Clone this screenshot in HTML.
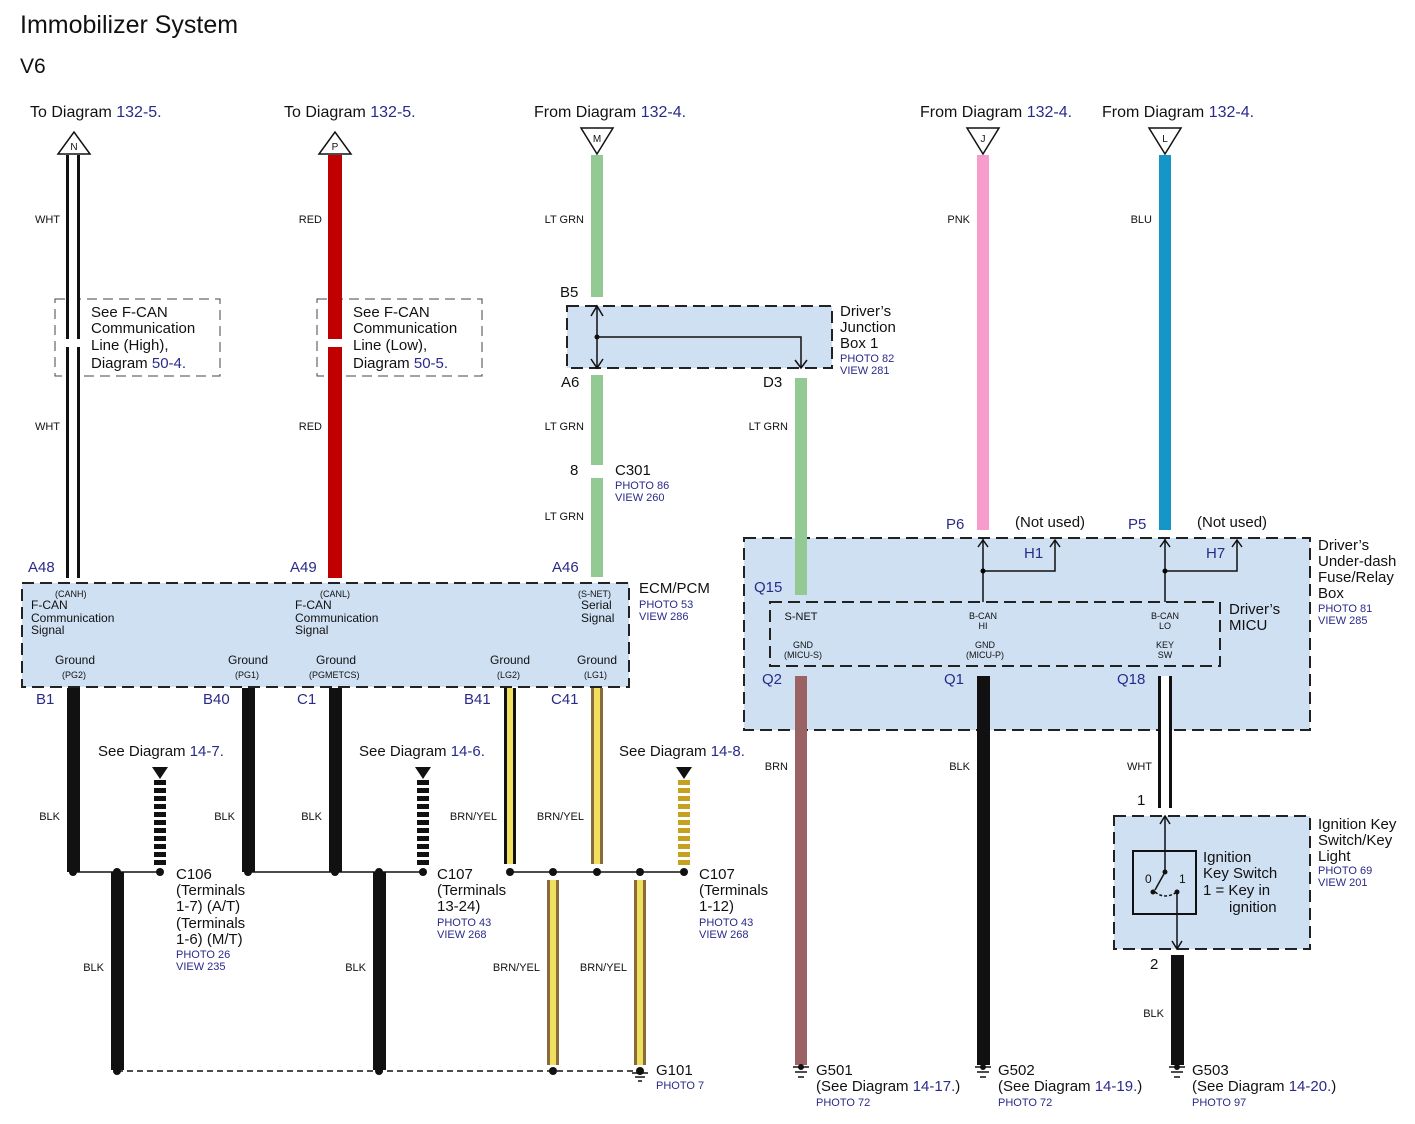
<!DOCTYPE html>
<html><head><meta charset="utf-8"><style>
body{margin:0;background:#fff}
svg text{font-family:"Liberation Sans",sans-serif;fill:#111}
.b{fill:#2a2a8a !important}
.s{font-size:11px}
.m{font-size:15px}
.p{font-size:11px;fill:#2a2a8a !important}
</style></head><body>
<svg width="1415" height="1119" viewBox="0 0 1415 1119" xmlns="http://www.w3.org/2000/svg">
<text x="20" y="33" font-size="25">Immobilizer System</text>
<text x="20" y="73" font-size="21">V6</text>

<!-- headers -->
<g class="m" font-size="16">
<text x="30" y="117" font-size="16">To Diagram <tspan class="b">132-5.</tspan></text>
<text x="284" y="117" font-size="16">To Diagram <tspan class="b">132-5.</tspan></text>
<text x="534" y="117" font-size="16">From Diagram <tspan class="b">132-4.</tspan></text>
<text x="920" y="117" font-size="16">From Diagram <tspan class="b">132-4.</tspan></text>
<text x="1102" y="117" font-size="16">From Diagram <tspan class="b">132-4.</tspan></text>
</g>

<!-- boxes -->
<g fill="#cfe0f3" stroke="#222" stroke-width="2" stroke-dasharray="12,6">
<rect x="22" y="583" width="607" height="104"/>
<rect x="567" y="306" width="265" height="62"/>
<rect x="744" y="538" width="566" height="192"/>
<rect x="770" y="602" width="450" height="64"/>
<rect x="1114" y="816" width="196" height="133"/>
</g>
<!-- F-CAN note boxes -->
<g fill="none" stroke="#444" stroke-width="1" stroke-dasharray="10,6">
<rect x="55" y="299" width="165" height="77"/>
<rect x="317" y="299" width="165" height="77"/>
</g>

<!-- wires top -->
<g>
<rect x="66" y="155" width="14" height="423" fill="#111"/><rect x="69" y="155" width="8" height="423" fill="#fff"/>
<rect x="328" y="155" width="14" height="423" fill="#c00000"/>
<rect x="591" y="155" width="12" height="142" fill="#93c993"/>
<rect x="591" y="375" width="12" height="90" fill="#93c993"/>
<rect x="591" y="478" width="12" height="99" fill="#93c993"/>
<rect x="795" y="378" width="12" height="217" fill="#93c993"/>
<rect x="977" y="155" width="12" height="375" fill="#f79ccb"/>
<rect x="1159" y="155" width="12" height="375" fill="#1596c8"/>
</g>
<!-- cover note boxes around wire -->
<rect x="66" y="339" width="14" height="8" fill="#fff"/>
<rect x="328" y="339" width="14" height="8" fill="#fff"/>

<!-- connector triangles -->
<g stroke="#111" stroke-width="1.5" fill="#fff">
<polygon points="58,154 90,154 74,132"/><polygon points="319,154 351,154 335,132"/>
<polygon points="581,128 613,128 597,154"/><polygon points="967,128 999,128 983,154"/><polygon points="1149,128 1181,128 1165,154"/>
</g>
<g font-size="10" text-anchor="middle"><text x="74" y="150">N</text><text x="335" y="150">P</text><text x="597" y="142">M</text><text x="983" y="142">J</text><text x="1165" y="142">L</text></g>

<!-- junction box internals -->
<g stroke="#111" stroke-width="1.5" fill="none">
<line x1="597" y1="306" x2="597" y2="368"/>
<polyline points="597,337 801,337 801,368"/>
<polyline points="795,360 801,368 807,360"/>
<polyline points="591,316 597,306 603,316"/>
<polyline points="591,359 597,368 603,359"/>
</g>
<circle cx="597" cy="337" r="2.5" fill="#111"/>

<!-- under-dash internals -->
<g stroke="#111" stroke-width="1.5" fill="none">
<line x1="983" y1="538" x2="983" y2="602"/><polyline points="983,571 1055,571 1055,540"/>
<line x1="1165" y1="538" x2="1165" y2="602"/><polyline points="1165,571 1237,571 1237,540"/>
<polyline points="978,547 983,540 988,547"/><polyline points="1050,547 1055,540 1060,547"/>
<polyline points="1160,547 1165,540 1170,547"/><polyline points="1232,547 1237,540 1242,547"/>
</g>
<circle cx="983" cy="571" r="2.5"/><circle cx="1165" cy="571" r="2.5"/>

<!-- bottom wires -->
<g>
<rect x="67" y="688" width="13" height="184" fill="#111"/>
<rect x="242" y="688" width="13" height="184" fill="#111"/>
<rect x="329" y="688" width="13" height="184" fill="#111"/>
<rect x="504" y="688" width="12" height="176" fill="#111"/><rect x="507" y="688" width="6" height="176" fill="#f0e060"/>
<rect x="591" y="688" width="12" height="176" fill="#8a6a3a"/><rect x="594" y="688" width="6" height="176" fill="#f0e060"/>
<rect x="111" y="872" width="13" height="198" fill="#111"/>
<rect x="373" y="872" width="13" height="198" fill="#111"/>
<rect x="547" y="880" width="12" height="185" fill="#8a6a3a"/><rect x="550" y="880" width="6" height="185" fill="#f0e060"/>
<rect x="634" y="880" width="12" height="185" fill="#8a6a3a"/><rect x="637" y="880" width="6" height="185" fill="#f0e060"/>
<rect x="795" y="676" width="12" height="389" fill="#9a6262"/>
<rect x="977" y="676" width="13" height="389" fill="#111"/>
<rect x="1158" y="676" width="14" height="132" fill="#111"/><rect x="1161" y="676" width="8" height="132" fill="#fff"/>
<rect x="1171" y="955" width="13" height="110" fill="#111"/>
</g>
<g stroke="#111" stroke-width="12" stroke-dasharray="5,3">
<line x1="160" y1="780" x2="160" y2="866"/><line x1="423" y1="780" x2="423" y2="866"/>
</g>
<line x1="684" y1="780" x2="684" y2="866" stroke="#c8a020" stroke-width="12" stroke-dasharray="5,3"/>
<g fill="#111"><polygon points="152,767 168,767 160,779"/><polygon points="415,767 431,767 423,779"/><polygon points="676,767 692,767 684,779"/></g>
<g stroke="#111" stroke-width="1.5">
<line x1="73" y1="872" x2="160" y2="872"/><line x1="248" y1="872" x2="423" y2="872"/><line x1="510" y1="872" x2="684" y2="872"/>
<line x1="117" y1="1071" x2="640" y2="1071" stroke-dasharray="6,4"/>
</g>
<g fill="#111">
<circle cx="73" cy="872" r="4"/><circle cx="117" cy="872" r="4"/><circle cx="160" cy="872" r="4"/>
<circle cx="248" cy="872" r="4"/><circle cx="335" cy="872" r="4"/><circle cx="379" cy="872" r="4"/><circle cx="423" cy="872" r="4"/>
<circle cx="510" cy="872" r="4"/><circle cx="553" cy="872" r="4"/><circle cx="597" cy="872" r="4"/><circle cx="640" cy="872" r="4"/><circle cx="684" cy="872" r="4"/>
<circle cx="117" cy="1071" r="4"/><circle cx="379" cy="1071" r="4"/><circle cx="553" cy="1071" r="4"/><circle cx="640" cy="1071" r="4"/>
</g>
<!-- grounds -->
<g stroke="#111" stroke-width="1.5">
<line x1="632" y1="1073" x2="648" y2="1073"/><line x1="635" y1="1077" x2="645" y2="1077"/><line x1="638" y1="1081" x2="642" y2="1081"/>
<line x1="793" y1="1067" x2="809" y2="1067"/><line x1="795" y1="1072" x2="807" y2="1072"/><line x1="798" y1="1077" x2="804" y2="1077"/>
<line x1="975" y1="1067" x2="991" y2="1067"/><line x1="977" y1="1072" x2="989" y2="1072"/><line x1="980" y1="1077" x2="986" y2="1077"/>
<line x1="1169" y1="1067" x2="1185" y2="1067"/><line x1="1171" y1="1072" x2="1183" y2="1072"/><line x1="1174" y1="1077" x2="1180" y2="1077"/>
</g>
<g fill="#111"><circle cx="801" cy="1067" r="3"/><circle cx="983" cy="1067" r="3"/><circle cx="1177" cy="1067" r="3"/></g>

<!-- ignition switch -->
<rect x="1133" y="851" width="63" height="63" fill="none" stroke="#111" stroke-width="2"/>
<g stroke="#111" stroke-width="1.5" fill="none">
<line x1="1165" y1="816" x2="1165" y2="872"/><line x1="1165" y1="872" x2="1155" y2="890"/>
<path d="M1155,892 Q1165,900 1177,892" stroke-dasharray="3,2"/>
<line x1="1177" y1="892" x2="1177" y2="949"/>
<polyline points="1160,824 1165,816 1170,824"/><polyline points="1172,941 1177,949 1182,941"/>
</g>
<g fill="#111"><circle cx="1165" cy="872" r="2.5"/><circle cx="1153" cy="892" r="2.5"/><circle cx="1177" cy="892" r="2.5"/></g>
<text x="1145" y="883" font-size="12">0</text><text x="1179" y="883" font-size="12">1</text>

<!-- wire labels -->
<g class="s" text-anchor="end">
<text x="60" y="223">WHT</text><text x="60" y="430">WHT</text>
<text x="322" y="223">RED</text><text x="322" y="430">RED</text>
<text x="584" y="223">LT GRN</text><text x="584" y="430">LT GRN</text><text x="584" y="520">LT GRN</text>
<text x="788" y="430">LT GRN</text>
<text x="970" y="223">PNK</text><text x="1152" y="223">BLU</text>
<text x="60" y="820">BLK</text><text x="235" y="820">BLK</text><text x="322" y="820">BLK</text>
<text x="497" y="820">BRN/YEL</text><text x="584" y="820">BRN/YEL</text>
<text x="104" y="971">BLK</text><text x="366" y="971">BLK</text>
<text x="540" y="971">BRN/YEL</text><text x="627" y="971">BRN/YEL</text>
<text x="788" y="770">BRN</text><text x="970" y="770">BLK</text><text x="1152" y="770">WHT</text><text x="1164" y="1017">BLK</text>
</g>

<!-- F-CAN notes -->
<g font-size="15">
<text x="91" y="317">See F-CAN</text><text x="91" y="333">Communication</text><text x="91" y="350">Line (High),</text><text x="91" y="368">Diagram <tspan class="b">50-4.</tspan></text>
<text x="353" y="317">See F-CAN</text><text x="353" y="333">Communication</text><text x="353" y="350">Line (Low),</text><text x="353" y="368">Diagram <tspan class="b">50-5.</tspan></text>
</g>

<!-- pin labels (blue) -->
<g font-size="15" class="b">
<text class="b" x="28" y="572">A48</text><text class="b" x="290" y="572">A49</text><text class="b" x="552" y="572">A46</text>
<text class="b" x="36" y="704">B1</text><text class="b" x="203" y="704">B40</text><text class="b" x="297" y="704">C1</text>
<text class="b" x="464" y="704">B41</text><text class="b" x="551" y="704">C41</text>
<text class="b" x="754" y="592">Q15</text><text class="b" x="762" y="684">Q2</text><text class="b" x="944" y="684">Q1</text><text class="b" x="1117" y="684">Q18</text>
<text class="b" x="946" y="529">P6</text><text class="b" x="1128" y="529">P5</text>
<text class="b" x="1024" y="558">H1</text><text class="b" x="1206" y="558">H7</text>
</g>
<g font-size="15">
<text x="560" y="297">B5</text><text x="561" y="387">A6</text><text x="763" y="387">D3</text>
<text x="570" y="475">8</text><text x="615" y="475">C301</text>
<text x="1015" y="527">(Not used)</text><text x="1197" y="527">(Not used)</text>
<text x="1137" y="805">1</text><text x="1150" y="969">2</text>
</g>

<!-- ECM text -->
<g font-size="12">
<text x="55" y="597" font-size="9">(CANH)</text><text x="31" y="609">F-CAN</text><text x="31" y="622">Communication</text><text x="31" y="634">Signal</text>
<text x="320" y="597" font-size="9">(CANL)</text><text x="295" y="609">F-CAN</text><text x="295" y="622">Communication</text><text x="295" y="634">Signal</text>
<text x="578" y="597" font-size="9">(S-NET)</text><text x="581" y="609">Serial</text><text x="581" y="622">Signal</text>
<text x="55" y="664">Ground</text><text x="62" y="678" font-size="9">(PG2)</text>
<text x="228" y="664">Ground</text><text x="235" y="678" font-size="9">(PG1)</text>
<text x="316" y="664">Ground</text><text x="309" y="678" font-size="9">(PGMETCS)</text>
<text x="490" y="664">Ground</text><text x="497" y="678" font-size="9">(LG2)</text>
<text x="577" y="664">Ground</text><text x="584" y="678" font-size="9">(LG1)</text>
</g>
<!-- MICU text -->
<g font-size="11" text-anchor="middle">
<text x="801" y="620">S-NET</text>
<text x="983" y="619" font-size="9">B-CAN</text><text x="983" y="629" font-size="9">HI</text>
<text x="1165" y="619" font-size="9">B-CAN</text><text x="1165" y="629" font-size="9">LO</text>
<text x="803" y="648" font-size="9">GND</text><text x="803" y="658" font-size="9">(MICU-S)</text>
<text x="985" y="648" font-size="9">GND</text><text x="985" y="658" font-size="9">(MICU-P)</text>
<text x="1165" y="648" font-size="9">KEY</text><text x="1165" y="658" font-size="9">SW</text>
</g>

<!-- component names -->
<g font-size="15">
<text x="639" y="593">ECM/PCM</text><text class="p" x="639" y="608">PHOTO 53</text><text class="p" x="639" y="620">VIEW 286</text>
<text x="840" y="316">Driver’s</text><text x="840" y="332">Junction</text><text x="840" y="348">Box 1</text><text class="p" x="840" y="362">PHOTO 82</text><text class="p" x="840" y="374">VIEW 281</text>
<text x="615" y="489" class="p">PHOTO 86</text><text x="615" y="501" class="p">VIEW 260</text>
<text x="1318" y="550">Driver’s</text><text x="1318" y="566">Under-dash</text><text x="1318" y="582">Fuse/Relay</text><text x="1318" y="598">Box</text><text class="p" x="1318" y="612">PHOTO 81</text><text class="p" x="1318" y="624">VIEW 285</text>
<text x="1229" y="614">Driver’s</text><text x="1229" y="630">MICU</text>
<text x="1318" y="829">Ignition Key</text><text x="1318" y="845">Switch/Key</text><text x="1318" y="861">Light</text><text class="p" x="1318" y="874">PHOTO 69</text><text class="p" x="1318" y="886">VIEW 201</text>
<text x="1203" y="862">Ignition</text><text x="1203" y="878">Key Switch</text><text x="1203" y="895">1 = Key in</text><text x="1229" y="912">ignition</text>
<text x="98" y="756">See Diagram <tspan class="b">14-7.</tspan></text>
<text x="359" y="756">See Diagram <tspan class="b">14-6.</tspan></text>
<text x="619" y="756">See Diagram <tspan class="b">14-8.</tspan></text>
<text x="176" y="879">C106</text><text x="176" y="895">(Terminals</text><text x="176" y="911">1-7) (A/T)</text><text x="176" y="928">(Terminals</text><text x="176" y="944">1-6) (M/T)</text><text class="p" x="176" y="958">PHOTO 26</text><text class="p" x="176" y="970">VIEW 235</text>
<text x="437" y="879">C107</text><text x="437" y="895">(Terminals</text><text x="437" y="911">13-24)</text><text class="p" x="437" y="926">PHOTO 43</text><text class="p" x="437" y="938">VIEW 268</text>
<text x="699" y="879">C107</text><text x="699" y="895">(Terminals</text><text x="699" y="911">1-12)</text><text class="p" x="699" y="926">PHOTO 43</text><text class="p" x="699" y="938">VIEW 268</text>
<text x="656" y="1075">G101</text><text class="p" x="656" y="1089">PHOTO 7</text>
<text x="816" y="1075">G501</text><text x="816" y="1091">(See Diagram <tspan class="b">14-17.</tspan>)</text><text class="p" x="816" y="1106">PHOTO 72</text>
<text x="998" y="1075">G502</text><text x="998" y="1091">(See Diagram <tspan class="b">14-19.</tspan>)</text><text class="p" x="998" y="1106">PHOTO 72</text>
<text x="1192" y="1075">G503</text><text x="1192" y="1091">(See Diagram <tspan class="b">14-20.</tspan>)</text><text class="p" x="1192" y="1106">PHOTO 97</text>
</g>
</svg>
</body></html>
